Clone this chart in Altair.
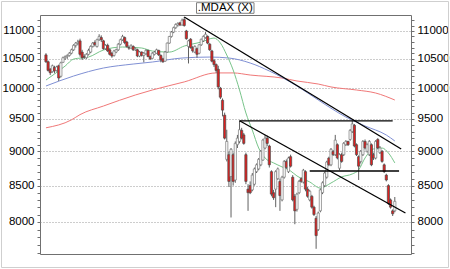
import altair as alt
import pandas as pd
import numpy as np

START = "2011-04-08"

# Daily candles (open, high, low, close), one list per month of trading days
apr = [(10570,10600,10430,10450),(10450,10470,10280,10300),(10320,10340,10220,10260),(10280,10400,10260,10380),
       (10350,10380,10250,10290),(10300,10380,10280,10360),(10380,10400,10120,10170),(10200,10450,10180,10430),
       (10440,10540,10430,10520),(10520,10560,10480,10540),(10540,10580,10500,10560),(10560,10620,10540,10600),
       (10600,10680,10580,10660),(10660,10760,10640,10740),(10740,10800,10700,10780),(10780,10840,10740,10800)]
may = [(10820,10860,10540,10580),(10620,10660,10480,10520),(10540,10580,10500,10530),(10520,10600,10500,10580),
       (10580,10680,10560,10650),(10620,10740,10600,10720),(10720,10800,10700,10780),(10790,10830,10720,10750),
       (10720,10860,10700,10840),(10840,10940,10820,10900),(10880,10920,10800,10840),(10820,10840,10660,10680),
       (10680,10760,10660,10740),(10740,10770,10620,10640),(10660,10680,10560,10580),(10600,10620,10520,10550),
       (10560,10660,10540,10640),(10620,10680,10600,10660),(10660,10780,10640,10760),(10760,10860,10740,10840),
       (10840,10930,10820,10900),(10880,10900,10760,10790)]
jun = [(10800,10820,10700,10720),(10700,10740,10660,10690),(10690,10760,10680,10730),(10720,10740,10640,10660),
       (10660,10700,10640,10680),(10660,10680,10530,10550),(10550,10640,10530,10620),(10620,10630,10540,10560),
       (10560,10620,10440,10600),(10590,10670,10570,10650),(10650,10660,10530,10540),(10540,10560,10480,10500),
       (10510,10620,10500,10600),(10580,10640,10560,10620),(10600,10680,10590,10660),(10650,10660,10550,10570),
       (10560,10580,10440,10480),(10500,10520,10430,10450),(10460,10640,10450,10620),(10620,10790,10610,10780),
       (10780,10910,10770,10900),(10900,11000,10880,10980)]
jul = [(10980,11080,10960,11060),(11060,11140,11040,11120),(11110,11160,11080,11140),(11150,11170,11090,11110),
       (11110,11230,11100,11200),(11210,11260,11080,11100),(11000,11020,10840,10860),(10720,10840,10420,10820),
       (10850,10870,10680,10700),(10700,10730,10610,10640),(10620,10740,10600,10720),(10680,10700,10520,10580),
       (10600,10760,10580,10750),(10750,10860,10730,10850),(10820,10920,10800,10900),(10880,10980,10860,10940),
       (10900,10920,10760,10780),(10760,10780,10640,10660),(10640,10660,10440,10460),(10470,10500,10360,10400),
       (10400,10420,10260,10300)]
aug = [(10320,10380,9980,10020),(10000,10020,9820,9850),(9800,9830,9540,9640),(9560,9600,9180,9200),
       (8880,9330,8850,9150),(8950,9000,8480,8560),(8630,9050,8060,9030),(8950,8980,8500,8560),
       (8580,9150,8540,9120),(9100,9250,9050,9200),(9150,9470,9120,9330),(9320,9360,9180,9200),
       (9250,9280,9100,9120),(8950,8980,8520,8560),(8450,8520,8150,8400),(8500,8560,8380,8400),
       (8440,8680,8420,8650),(8520,8760,8500,8740),(8700,8820,8680,8800),(8740,8900,8720,8880),
       (8800,9020,8780,9000),(8870,9190,8860,9170),(9050,9250,9030,9200)]
sep = [(9200,9240,9080,9120),(9080,9100,8760,8800),(8700,8720,8350,8380),(8400,8440,8300,8330),
       (8450,8720,8200,8700),(8600,8760,8580,8740),(8560,8600,8150,8360),(8300,8640,8280,8620),
       (8620,8870,8600,8850),(8850,8880,8740,8760),(8700,8920,8680,8900),(8920,8950,8760,8780),
       (8620,8650,8280,8300),(8350,8380,7970,8150),(8170,8400,8140,8380),(8400,8580,8380,8560),
       (8600,8620,8540,8560),(8550,8740,8530,8720),(8700,8720,8420,8450),(8450,8480,8330,8350),
       (8300,8440,8280,8420),(8350,8370,8180,8200)]
octo = [(8200,8220,8080,8100),(8050,8080,7650,7820),(7900,8140,7880,8120),(8150,8460,8130,8440),
        (8400,8560,8380,8540),(8500,8700,8480,8680),(8620,8860,8600,8840),(8900,8920,8780,8800),
        (8800,9050,8780,9030),(9000,9020,8930,8950),(8950,9250,8930,9170),(9100,9120,8880,8900),
        (8750,8970,8720,8950),(8950,8980,8830,8850),(8950,9140,8930,9120),(9100,9170,9080,9150),
        (9150,9160,9080,9100),(9180,9340,9160,9320),(9300,9470,9280,9420),(9400,9420,9060,9080),
        (9100,9120,8930,8950)]
nov = [(8920,8940,8580,8780),(8850,9020,8820,9000),(8950,9170,8930,9150),(9150,9180,9030,9050),
       (9000,9120,8980,9100),(8950,9170,8930,9150),(9100,9120,8780,8800),(8950,8980,8870,8900),
       (8900,9170,8880,9150),(9180,9200,9030,9050),(8980,9080,8960,9050),(9000,9020,8830,8850),
       (8800,8820,8680,8700),(8650,8670,8560,8580),(8500,8520,8230,8250),(8300,8320,8180,8200),
       (8150,8170,8080,8110),(8150,8340,8130,8280)]

# Moving averages (short = green, medium = blue, long = red)
green_dates = ["2011-04-08","2011-04-14","2011-04-21","2011-04-27","2011-05-06","2011-05-17","2011-05-30",
               "2011-06-10","2011-06-17","2011-06-29","2011-07-08","2011-07-20","2011-07-28","2011-08-02",
               "2011-08-05","2011-08-10","2011-08-15","2011-08-18","2011-08-23","2011-08-26","2011-08-31",
               "2011-09-06","2011-09-12","2011-09-16","2011-09-21","2011-09-29","2011-10-06","2011-10-13",
               "2011-10-20","2011-10-27","2011-11-01","2011-11-04","2011-11-10","2011-11-16","2011-11-21","2011-11-24"]
green_vals = [10136,10238,10375,10497,10532,10656,10710,10692,10638,10620,10727,10799,10871,10781,
              10567,10307,9969,9594,9325,9050,8901,8828,8769,8710,8638,8552,8465,8537,
              8624,8667,8725,8901,9035,9050,8975,8828]
blue_dates = ["2011-04-08","2011-04-27","2011-05-17","2011-06-06","2011-06-17","2011-07-07","2011-07-26",
              "2011-08-08","2011-08-22","2011-09-02","2011-09-21","2011-10-05","2011-10-24","2011-11-04",
              "2011-11-18","2011-11-24"]
blue_vals = [10036,10204,10341,10410,10445,10515,10532,10515,10428,10290,10036,9804,9530,9389,9248,9157]
red_dates = ["2011-04-08","2011-04-26","2011-05-02","2011-05-17","2011-06-07","2011-06-17","2011-07-08",
             "2011-07-29","2011-08-10","2011-08-22","2011-09-12","2011-09-21","2011-10-05","2011-10-13",
             "2011-10-31","2011-11-11","2011-11-24"]
red_vals = [9360,9485,9568,9706,9886,9969,10104,10257,10257,10221,10170,10120,10069,10020,9969,9919,9804]

# Trend lines
trend_d1 = ["2011-07-08","2011-08-15","2011-08-15","2011-09-29"]
trend_v1 = [11260,9470,9470,8710]
trend_d2 = ["2011-11-29","2011-12-01","2011-11-23","2011-11-28"]
trend_v2 = [9035,8120,9470,8710]

tick_dates = ["2011-05-02","2011-07-01","2011-09-01","2011-11-01"]
tick_labels = ["Mai 11","Jul 11","Sep 11","Nov 11"]
title_text = ".MDAX (X)"

FONT = "Liberation Sans"


def bidx(dates):
    return np.busday_count(np.datetime64(START, "D"),
                           np.array(list(dates), dtype="datetime64[D]")).astype(int)


rows = apr + may + jun + jul + aug + sep + octo + nov
candles = pd.DataFrame(rows, columns=["open", "high", "low", "close"])
candles["date"] = pd.bdate_range(START, periods=len(candles)).strftime("%Y-%m-%d")
candles["i"] = bidx(candles["date"])

ma = pd.concat([
    pd.DataFrame({"i": bidx(red_dates), "v": red_vals, "s": "red"}),
    pd.DataFrame({"i": bidx(blue_dates), "v": blue_vals, "s": "blue"}),
    pd.DataFrame({"i": bidx(green_dates), "v": green_vals, "s": "green"}),
], ignore_index=True)

trend = pd.DataFrame({"i1": bidx(trend_d1), "v1": trend_v1, "i2": bidx(trend_d2), "v2": trend_v2})

tick_idx = [int(v) for v in bidx(tick_dates)]
label_expr_x = " : ".join(f"datum.value == {v} ? '{t}'" for v, t in zip(tick_idx, tick_labels)) + " : ''"

xs = alt.Scale(domain=[-0.457, 169.26], nice=False, zero=False)
ys = alt.Scale(type="log", domain=[7584, 11297], nice=False, zero=False)

y_ticks = list(range(7600, 11300, 100))
ylab = "datum.value % 500 == 0 ? format(datum.value, 'd') : ''"
grid_cond = {"condition": {"test": "datum.value % 500 == 0", "value": 1}, "value": 0}

xaxis = alt.Axis(values=tick_idx, labelExpr=label_expr_x, grid=True, gridDash=[1, 2],
                 gridColor="#9a9a9a", domain=False, tickSize=3, tickColor="#707070",
                 labelAlign="left", labelPadding=2, labelOffset=1, labelFontSize=11.5,
                 labelFont=FONT, labelColor="#000000", labelFlush=False, labelOverlap=False,
                 title=None)
yaxis_left = alt.Axis(orient="left", values=y_ticks, labelExpr=ylab, grid=True, gridDash=[1, 2],
                      gridColor="#9a9a9a", gridOpacity=grid_cond, domain=False, tickSize=3,
                      tickColor="#707070", labelPadding=3, labelFontSize=11.5, labelFont=FONT,
                      labelColor="#000000", labelOverlap=False, title=None)
yaxis_right = alt.Axis(orient="right", values=y_ticks, labelExpr=ylab, grid=False, domain=False,
                       tickSize=3, tickColor="#707070", labelPadding=3, labelFontSize=11.5,
                       labelFont=FONT, labelColor="#000000", labelOverlap=False, title=None)

ma_layer = alt.Chart(ma).mark_line(strokeWidth=1, interpolate="monotone", clip=True).encode(
    x=alt.X("i:Q", scale=xs, axis=None),
    y=alt.Y("v:Q", scale=ys, axis=None),
    color=alt.Color("s:N", scale=alt.Scale(domain=["red", "blue", "green"],
                                           range=["#f07878", "#8090d4", "#78c48a"]), legend=None),
    detail="s:N",
)

wicks = alt.Chart(candles).mark_rule(color="#606060", strokeWidth=1, clip=True).encode(
    x=alt.X("i:Q", scale=xs, axis=xaxis),
    y=alt.Y("low:Q", scale=ys, axis=yaxis_left),
    y2="high:Q",
)

bodies = alt.Chart(candles).mark_bar(size=2.2, strokeWidth=0.7, clip=True).encode(
    x=alt.X("i:Q", scale=xs, axis=None),
    y=alt.Y("open:Q", scale=ys, axis=yaxis_right),
    y2="close:Q",
    fill=alt.condition("datum.close >= datum.open", alt.value("#ffffff"), alt.value("#e0201f")),
    stroke=alt.condition("datum.close >= datum.open", alt.value("#7a7a7a"), alt.value("#4a4a4a")),
)

trend_layer = alt.Chart(trend).mark_rule(color="#000000", strokeWidth=1.3, clip=True).encode(
    x=alt.X("i1:Q", scale=xs, axis=None),
    x2="i2:Q",
    y=alt.Y("v1:Q", scale=ys, axis=None),
    y2="v2:Q",
)

frame = alt.Chart(pd.DataFrame({"k": [0]})).mark_rect(fill=None, stroke="#cfcfcf", strokeWidth=1).encode(
    x=alt.value(-38.5), x2=alt.value(408.5), y=alt.value(-13.5), y2=alt.value(252.5)
)
title_box = alt.Chart(pd.DataFrame({"k": [0]})).mark_rect(fill="#ffffff", stroke="#808080", strokeWidth=1).encode(
    x=alt.value(156.5), x2=alt.value(214), y=alt.value(-12.3), y2=alt.value(-1.7)
)
title_mark = alt.Chart(pd.DataFrame({"t": [title_text]})).mark_text(
    font=FONT, fontSize=11.5, color="#000000", align="center", baseline="middle"
).encode(x=alt.value(185.3), y=alt.value(-6.8), text="t:N")

chart = alt.layer(
    frame, ma_layer, wicks, bodies, trend_layer, title_box, title_mark
).resolve_axis(y="independent").properties(
    width=371, height=239,
    autosize=alt.AutoSizeParams(type="none"),
    padding={"left": 40, "top": 15, "right": 39, "bottom": 15},
    background="#ffffff",
).configure_view(stroke="#707070", strokeWidth=1)

chart.save("out.html", embed_options={"renderer": "svg", "actions": False})
